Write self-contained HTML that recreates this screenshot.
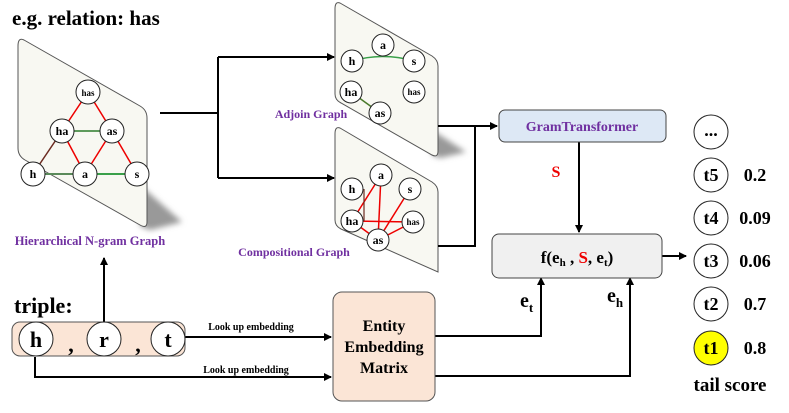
<!DOCTYPE html>
<html><head><meta charset="utf-8"><style>
html,body{margin:0;padding:0;background:#fff}
svg text{font-family:"Liberation Serif",serif;font-weight:bold}
</style></head><body>
<svg width="789" height="408" viewBox="0 0 789 408" xmlns="http://www.w3.org/2000/svg">
<defs>
<marker id="ar" markerWidth="8" markerHeight="8" refX="7" refY="4" orient="auto" markerUnits="userSpaceOnUse"><path d="M0,0 L8,4 L0,8 z" fill="#000"/></marker>
<filter id="bl" x="-50%" y="-50%" width="200%" height="200%"><feGaussianBlur stdDeviation="3"/></filter>
</defs>
<text x="12" y="25" font-size="21">e.g. relation: has</text>

<!-- Hierarchical panel -->
<path d="M140,185 L182,222 L150,230 L140,226 Z" fill="#999" filter="url(#bl)"/>
<path d="M24,40 L140,106 Q147,110 147,118 L147,222 Q147,229 140,225 L25,160 Q18,156 18,148 L18,46 Q18,37 24,40 Z" fill="#f8f8f2" stroke="#555" stroke-width="1"/>
<g stroke-width="1.5" fill="none">
<line x1="88" y1="92" x2="62" y2="131" stroke="#e00"/>
<line x1="88" y1="92" x2="112" y2="131" stroke="#e00"/>
<line x1="62" y1="131" x2="112" y2="131" stroke="#2a7a2a"/>
<line x1="62" y1="131" x2="33" y2="174" stroke="#6b2a20"/>
<line x1="62" y1="131" x2="85" y2="174" stroke="#e00"/>
<line x1="112" y1="131" x2="85" y2="174" stroke="#e00"/>
<line x1="112" y1="131" x2="137" y2="174" stroke="#e00"/>
<line x1="33" y1="174" x2="85" y2="174" stroke="#5a8a5a" stroke-width="2"/>
<line x1="85" y1="174" x2="137" y2="174" stroke="#3aa04a" stroke-width="2"/>
</g>
<g fill="#fff" stroke="#222" stroke-width="1">
<circle cx="88" cy="92" r="12"/><circle cx="62" cy="131" r="12"/><circle cx="112" cy="131" r="12"/>
<circle cx="33" cy="174" r="12"/><circle cx="85" cy="174" r="12"/><circle cx="137" cy="174" r="12"/>
</g>
<g font-size="12" text-anchor="middle">
<text x="88" y="96" font-size="9">has</text><text x="62" y="135">ha</text><text x="112" y="135">as</text>
<text x="33" y="178">h</text><text x="85" y="178">a</text><text x="137" y="178">s</text>
</g>
<text x="90" y="245" font-size="12.5" fill="#7030A0" text-anchor="middle">Hierarchical N-gram Graph</text>

<!-- Adjoin panel -->
<path d="M432,130 L466,152 L440,158 L432,155 Z" fill="#999" filter="url(#bl)"/>
<path d="M340,3 L432,56 Q438,60 438,66 L438,151 Q438,158 432,155 L341,103 Q335,100 335,94 L335,9 Q335,1 340,3 Z" fill="#f8f8f2" stroke="#555"/>
<path d="M352,61 Q383,52 414,61" stroke="#3aa04a" stroke-width="1.5" fill="none"/>
<line x1="351" y1="92" x2="380" y2="113" stroke="#4a7a2a" stroke-width="1.5"/>
<g fill="#fff" stroke="#222">
<circle cx="383" cy="45" r="11"/><circle cx="352" cy="61" r="11"/><circle cx="414" cy="61" r="11"/>
<circle cx="351" cy="92" r="11"/><circle cx="414" cy="92" r="11"/><circle cx="380" cy="113" r="11"/>
</g>
<g font-size="12" text-anchor="middle">
<text x="383" y="49">a</text><text x="352" y="65">h</text><text x="414" y="65">s</text>
<text x="351" y="96">ha</text><text x="414" y="95" font-size="9">has</text><text x="380" y="117">as</text>
</g>
<text x="311" y="118" font-size="12" fill="#7030A0" text-anchor="middle">Adjoin Graph</text>

<!-- Compositional panel -->
<path d="M340,128 L432,182 Q438,186 438,192 L438,272 L341,229 Q335,226 335,220 L335,134 Q335,126 340,128 Z" fill="#f8f8f2" stroke="#555"/>
<g stroke="#e00" stroke-width="1.5" fill="none">
<line x1="352" y1="221" x2="381" y2="175"/><line x1="378" y1="240" x2="381" y2="175"/>
<line x1="378" y1="240" x2="410" y2="189"/><line x1="352" y1="221" x2="413" y2="222"/>
<line x1="378" y1="240" x2="413" y2="222"/><line x1="352" y1="221" x2="378" y2="240"/>
</g>
<line x1="364" y1="189" x2="364" y2="221" stroke="#6b2a20" stroke-width="1.2"/>
<g fill="#fff" stroke="#222">
<circle cx="381" cy="175" r="11"/><circle cx="352" cy="189" r="11"/><circle cx="410" cy="189" r="11"/>
<circle cx="352" cy="221" r="11"/><circle cx="413" cy="222" r="11"/><circle cx="378" cy="240" r="11"/>
</g>
<g font-size="12" text-anchor="middle">
<text x="381" y="179">a</text><text x="352" y="193">h</text><text x="410" y="193">s</text>
<text x="352" y="225">ha</text><text x="413" y="225" font-size="9">has</text><text x="378" y="244">as</text>
</g>
<text x="294" y="256" font-size="12" fill="#7030A0" text-anchor="middle">Compositional Graph</text>

<!-- connectors -->
<g stroke="#000" stroke-width="2" fill="none">
<line x1="160" y1="113" x2="218" y2="113"/>
<line x1="218" y1="57" x2="218" y2="178"/>
<line x1="218" y1="57" x2="334" y2="57" marker-end="url(#ar)"/>
<line x1="218" y1="178" x2="334" y2="178" marker-end="url(#ar)"/>
<line x1="438" y1="126" x2="497" y2="126" marker-end="url(#ar)"/>
<polyline points="438,246 475,246 475,126"/>
<line x1="579" y1="142" x2="579" y2="232" marker-end="url(#ar)"/>
<line x1="662" y1="256" x2="686" y2="256" marker-end="url(#ar)"/>
<line x1="104" y1="322" x2="104" y2="258" marker-end="url(#ar)"/>
<line x1="185" y1="337" x2="331" y2="337" marker-end="url(#ar)"/>
<polyline points="35,357 35,377 331,377" marker-end="url(#ar)"/>
<polyline points="435,336 541,336 541,278" marker-end="url(#ar)"/>
<polyline points="435,376 630,376 630,278" marker-end="url(#ar)"/>
</g>

<!-- GramTransformer -->
<rect x="499" y="110" width="167" height="32" rx="6" fill="#dde8f5" stroke="#444"/>
<text x="582" y="131" font-size="14" fill="#7030A0" text-anchor="middle">GramTransformer</text>
<text x="556" y="177" font-size="16" fill="#e00" text-anchor="middle">S</text>

<!-- f box -->
<rect x="492" y="234" width="170" height="44" rx="7" fill="#f0f0f0" stroke="#444"/>
<text x="577" y="263" font-size="17" text-anchor="middle">f(e<tspan font-size="11" dy="3">h</tspan><tspan dy="-3"> , </tspan><tspan fill="#e00">S</tspan>, e<tspan font-size="11" dy="3">t</tspan><tspan dy="-3">)</tspan></text>
<text x="520" y="307" font-size="20">e<tspan font-size="13" dy="5">t</tspan></text>
<text x="607" y="302" font-size="20">e<tspan font-size="13" dy="5">h</tspan></text>

<!-- triple -->
<text x="14" y="313" font-size="22">triple:</text>
<rect x="12" y="322" width="173" height="34" rx="8" fill="#fbe5d6" stroke="#555"/>
<g fill="#fff" stroke="#222">
<circle cx="36" cy="339" r="17"/><circle cx="104" cy="339" r="17"/><circle cx="168" cy="339" r="17"/>
</g>
<g font-size="22" text-anchor="middle">
<text x="36" y="347">h</text><text x="104" y="347">r</text><text x="168" y="347">t</text>
<text x="71" y="352">,</text><text x="138" y="352">,</text>
</g>
<text x="251" y="330" font-size="10" text-anchor="middle">Look up embedding</text>
<text x="246" y="373" font-size="10" text-anchor="middle">Look up embedding</text>

<!-- Entity -->
<rect x="333" y="292" width="102" height="109" rx="9" fill="#fbe5d6" stroke="#555"/>
<g font-size="16" text-anchor="middle">
<text x="384" y="331">Entity</text><text x="384" y="352">Embedding</text><text x="384" y="373">Matrix</text>
</g>

<!-- scores -->
<g stroke="#222" stroke-width="1">
<circle cx="711" cy="132" r="17" fill="#fff"/><circle cx="711" cy="175" r="17" fill="#fff"/>
<circle cx="711" cy="218" r="17" fill="#fff"/><circle cx="711" cy="261" r="17" fill="#fff"/>
<circle cx="711" cy="304" r="17" fill="#fff"/><circle cx="711" cy="348" r="17" fill="#ffff00"/>
</g>
<g font-size="18" text-anchor="middle">
<text x="711" y="136">...</text><text x="711" y="181">t5</text><text x="711" y="224">t4</text>
<text x="711" y="267">t3</text><text x="711" y="310">t2</text><text x="711" y="354">t1</text>
<text x="755" y="181">0.2</text><text x="755" y="224">0.09</text><text x="755" y="267">0.06</text>
<text x="755" y="310">0.7</text><text x="755" y="354">0.8</text>
<text x="730" y="391" font-size="19">tail score</text>
</g>
</svg>
</body></html>
